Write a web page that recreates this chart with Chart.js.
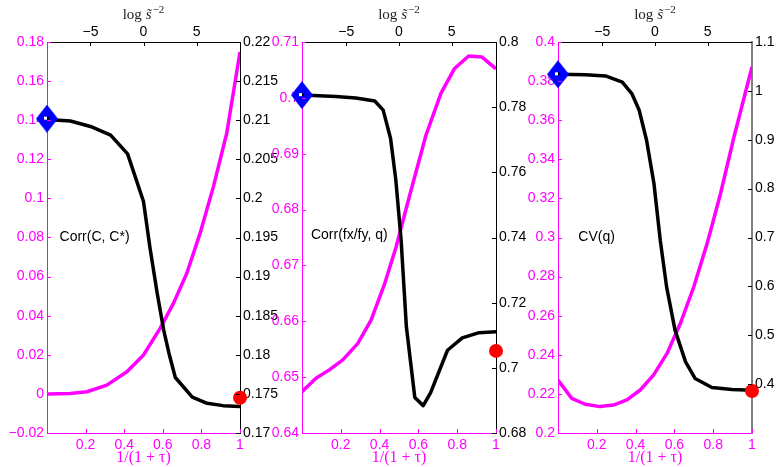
<!DOCTYPE html>
<html>
<head>
<meta charset="utf-8">
<script src="https://cdn.jsdelivr.net/npm/chart.js"></script>
<style>
  html, body { margin: 0; background: #fff; overflow: hidden; }
  #wrap { position: relative; width: 776px; height: 467px; overflow: hidden; }
  #wrap canvas { position: absolute; left: 0; top: 0; }
</style>
</head>
<body>
<div id="wrap">
  <canvas id="c1" width="800" height="467"></canvas>
  <canvas id="c2" width="800" height="467"></canvas>
  <canvas id="c3" width="800" height="467"></canvas>
</div>
<script>
// panel 1 - Corr(C, C*)
const p1TauX = [0, 0.12, 0.207, 0.31, 0.414, 0.5, 0.586, 0.655, 0.724, 0.793, 0.862, 0.931, 1];
const p1TauY = [0, 0.0002, 0.0011, 0.0045, 0.0113, 0.0199, 0.0335, 0.0463, 0.0616, 0.0821, 0.1059, 0.1332, 0.1749];
const p1LogX = [-9.1, -6.9, -5.0, -3.1, -1.5, 0, 0.6, 1.3, 1.9, 2.4, 3.0, 4.6, 6.0, 7.5, 9.1];
const p1LogY = [0.2101, 0.2099, 0.2092, 0.2081, 0.2057, 0.1996, 0.1938, 0.1878, 0.1832, 0.1802, 0.1771, 0.1746, 0.1738, 0.1735, 0.1734];
const p1Start = 0.2102;
const p1End = 0.1745;

// panel 2 - Corr(fx/fy, q)
const p2TauX = [0, 0.072, 0.141, 0.21, 0.287, 0.356, 0.424, 0.485, 0.553, 0.639, 0.716, 0.785, 0.859, 0.928, 1];
const p2TauY = [0.6474, 0.6498, 0.6513, 0.6531, 0.6560, 0.6602, 0.6665, 0.6733, 0.6823, 0.6933, 0.7008, 0.7052, 0.7075, 0.7073, 0.7052];
const p2LogX = [-9.2, -6.0, -4.1, -2.3, -1.5, -0.8, -0.3, 0.2, 0.7, 1.5, 2.3, 3.0, 4.6, 6.0, 7.6, 9.2];
const p2LogY = [0.7837, 0.7833, 0.7828, 0.7819, 0.7791, 0.7704, 0.7576, 0.7392, 0.7126, 0.6909, 0.6884, 0.6924, 0.7054, 0.7092, 0.7108, 0.7111];
const p2Start = 0.7837;
const p2End = 0.7052;

// panel 3 - CV(q)
const p3TauX = [0, 0.071, 0.14, 0.217, 0.286, 0.355, 0.424, 0.493, 0.562, 0.631, 0.7, 0.769, 0.838, 0.907, 1];
const p3TauY = [0.2271, 0.2177, 0.2147, 0.2135, 0.2143, 0.2169, 0.222, 0.2297, 0.2407, 0.2561, 0.2748, 0.297, 0.3225, 0.3514, 0.3872];
const p3LogX = [-9.2, -6.6, -4.7, -3.1, -2.2, -1.5, -0.8, -0.1, 0.5, 1.1, 1.9, 2.9, 3.8, 5.4, 7.3, 9.2];
const p3LogY = [1.034, 1.033, 1.0305, 1.018, 0.9945, 0.9603, 0.899, 0.8104, 0.6945, 0.599, 0.5104, 0.4456, 0.4116, 0.3932, 0.3892, 0.3877];
const p3Start = 1.034;
const p3End = 0.386;

// tick labels
const tauTicks = [0.2, 0.4, 0.6, 0.8, 1];
const logTicks = [-5, 0, 5];
const p1LeftTicks = [-0.02, 0, 0.02, 0.04, 0.06, 0.08, 0.1, 0.12, 0.14, 0.16, 0.18];
const p1RightTicks = [0.17, 0.175, 0.18, 0.185, 0.19, 0.195, 0.2, 0.205, 0.21, 0.215, 0.22];
const p2LeftTicks = [0.64, 0.65, 0.66, 0.67, 0.68, 0.69, 0.7, 0.71];
const p2RightTicks = [0.68, 0.7, 0.72, 0.74, 0.76, 0.78, 0.8];
const p3LeftTicks = [0.2, 0.22, 0.24, 0.26, 0.28, 0.3, 0.32, 0.34, 0.36, 0.38, 0.4];
const p3RightTicks = [0.4, 0.5, 0.6, 0.7, 0.8, 0.9, 1, 1.1];

const MAGENTA = '#ff00ff';
const CANVAS_W = 800;
const SERIF = 'Liberation Serif, Times New Roman, serif';
const tickFont = { family: 'Liberation Sans, Arial, sans-serif', size: 14 };
const titleFont = { family: SERIF, size: 16 };

function fmt(v) {
    return String(Number(v.toFixed(4))).replace('-', '\u2212');
}

function axis(position, min, max, tickValues, color, size, extra) {
    const horizontal = position === 'top' || position === 'bottom';
    const cfg = {
        type: 'linear',
        position,
        min,
        max,
        grid: { display: false, drawTicks: false, tickLength: 0 },
        border: { display: true, color, width: 1 },
        ticks: {
            color,
            font: tickFont,
            padding: position === 'bottom' ? 4 : (position === 'top' ? 1 : 3),
            autoSkip: false,
            maxRotation: 0,
            callback: v => fmt(v)
        },
        afterBuildTicks: s => { s.ticks = tickValues.map(v => ({ value: v })); },
        afterFit: s => { if (horizontal) s.height = size; else s.width = size; }
    };
    return Object.assign(cfg, extra || {});
}

// blue diamond marker
function diamond() {
    const c = document.createElement('canvas');
    c.width = 22;
    c.height = 28;
    const ctx = c.getContext('2d');
    ctx.fillStyle = '#0000ff';
    ctx.beginPath();
    ctx.moveTo(11, 0);
    ctx.lineTo(22, 14);
    ctx.lineTo(11, 28);
    ctx.lineTo(0, 14);
    ctx.closePath();
    ctx.fill();
    ctx.fillStyle = '#fff';
    ctx.fillRect(8, 12, 3, 3);
    ctx.fillStyle = '#000';
    ctx.fillRect(11, 12, 2, 3);
    return c;
}
const diamondImg = diamond();

// top axis title "log s~^-2" with a real superscript
function drawLogTitle(ctx, cx, y) {
    const parts = [
        { t: 'log', font: '15px ' + SERIF, dy: 0, gap: 4 },
        { t: 's\u0303', font: 'italic 15px ' + SERIF, dy: 0, gap: 1 },
        { t: '\u22122', font: '11px ' + SERIF, dy: -6, gap: 0 }
    ];
    let w = 0;
    parts.forEach(p => { ctx.font = p.font; p.w = ctx.measureText(p.t).width; w += p.w + p.gap; });
    let x = cx - w / 2;
    ctx.fillStyle = '#222';
    ctx.textAlign = 'left';
    ctx.textBaseline = 'alphabetic';
    parts.forEach(p => {
        ctx.font = p.font;
        ctx.fillText(p.t, x, y + p.dy);
        x += p.w + p.gap;
    });
}

// inward tick marks, panel label and top title
const innerTicks = {
    id: 'innerTicks',
    afterDraw(chart, args, opts) {
        const ctx = chart.ctx;
        ctx.save();
        ctx.lineWidth = 1;
        Object.values(chart.scales).forEach(s => {
            ctx.strokeStyle = s.options.ticks.color;
            const pos = s.options.position;
            s.ticks.forEach(t => {
                const p = Math.round(s.getPixelForValue(t.value)) + 0.5;
                ctx.beginPath();
                if (pos === 'left') { ctx.moveTo(s.right, p); ctx.lineTo(s.right + 4, p); }
                if (pos === 'right') { ctx.moveTo(s.left, p); ctx.lineTo(s.left - 4, p); }
                if (pos === 'top') { ctx.moveTo(p, s.bottom); ctx.lineTo(p, s.bottom + 4); }
                if (pos === 'bottom') { ctx.moveTo(p, s.top); ctx.lineTo(p, s.top - 4); }
                ctx.stroke();
            });
        });
        const lab = opts.label;
        ctx.font = '14px Liberation Sans, Arial, sans-serif';
        ctx.fillStyle = '#000';
        ctx.textAlign = 'left';
        ctx.textBaseline = 'middle';
        ctx.fillText(lab.text, chart.scales.xb.getPixelForValue(lab.x), chart.scales.yl.getPixelForValue(lab.y));
        const xt = chart.scales.xt;
        drawLogTitle(ctx, (xt.left + xt.right) / 2, 19);
        ctx.restore();
    }
};

function makePanel(id, p) {
    const pts = (xs, ys) => xs.map((x, i) => ({ x, y: ys[i] }));
    return new Chart(document.getElementById(id), {
        type: 'line',
        data: {
            datasets: [
                {
                    data: [{ x: p.logMin, y: p.start }],
                    xAxisID: 'xt', yAxisID: 'yr',
                    showLine: false, pointStyle: diamondImg, pointRadius: 11, clip: false
                },
                {
                    data: [{ x: p.logMax, y: p.end }],
                    xAxisID: 'xt', yAxisID: 'yr',
                    showLine: false, pointStyle: 'circle', pointRadius: 7,
                    pointBackgroundColor: '#ff0000', pointBorderColor: '#ff0000', pointBorderWidth: 0, clip: false
                },
                {
                    data: pts(p.logX, p.logY),
                    xAxisID: 'xt', yAxisID: 'yr',
                    borderColor: '#000', borderWidth: 3.5, pointRadius: 0, borderJoinStyle: 'round'
                },
                {
                    data: pts(p.tauX, p.tauY),
                    xAxisID: 'xb', yAxisID: 'yl',
                    borderColor: MAGENTA, borderWidth: 3.5, pointRadius: 0, borderJoinStyle: 'round'
                }
            ]
        },
        options: {
            responsive: false,
            animation: false,
            events: [],
            layout: { padding: { left: p.L - 40, right: CANVAS_W - p.R - 40, top: 0, bottom: 0 } },
            plugins: {
                legend: { display: false },
                tooltip: { enabled: false },
                innerTicks: { label: p.label }
            },
            scales: {
                xb: axis('bottom', 0, 1, tauTicks, MAGENTA, 34, {
                    title: { display: true, text: '1/(1 + \u03c4)', color: MAGENTA, font: titleFont, padding: { top: 0, bottom: 0 } }
                }),
                xt: axis('top', p.logMin, p.logMax, logTicks, '#000', 42),
                yl: axis('left', p.leftMin, p.leftMax, p.leftTicks, MAGENTA, 40),
                yr: axis('right', p.rightMin, p.rightMax, p.rightTicks, '#000', 40, p.rightBorder ? { border: p.rightBorder } : null)
            }
        },
        plugins: [innerTicks]
    });
}

makePanel('c1', {
    L: 47, R: 240,
    tauX: p1TauX, tauY: p1TauY, logX: p1LogX, logY: p1LogY,
    start: p1Start, end: p1End,
    logMin: -9.1, logMax: 9.1,
    leftMin: -0.02, leftMax: 0.18, leftTicks: p1LeftTicks,
    rightMin: 0.17, rightMax: 0.22, rightTicks: p1RightTicks,
    label: { text: 'Corr(C, C*)', x: 0.065, y: 0.08 }
});

makePanel('c2', {
    L: 302, R: 496,
    tauX: p2TauX, tauY: p2TauY, logX: p2LogX, logY: p2LogY,
    start: p2Start, end: p2End,
    logMin: -9.2, logMax: 9.2,
    leftMin: 0.64, leftMax: 0.71, leftTicks: p2LeftTicks,
    rightMin: 0.68, rightMax: 0.8, rightTicks: p2RightTicks,
    label: { text: 'Corr(fx/fy, q)', x: 0.046, y: 0.6754 }
});

makePanel('c3', {
    L: 558, R: 752,
    tauX: p3TauX, tauY: p3TauY, logX: p3LogX, logY: p3LogY,
    start: p3Start, end: p3End,
    logMin: -9.2, logMax: 9.2,
    leftMin: 0.2, leftMax: 0.4, leftTicks: p3LeftTicks,
    rightMin: 0.3, rightMax: 1.1, rightTicks: p3RightTicks,
    rightBorder: { display: true, color: '#808080', width: 2 },
    label: { text: 'CV(q)', x: 0.105, y: 0.3 }
});
</script>
</body>
</html>
